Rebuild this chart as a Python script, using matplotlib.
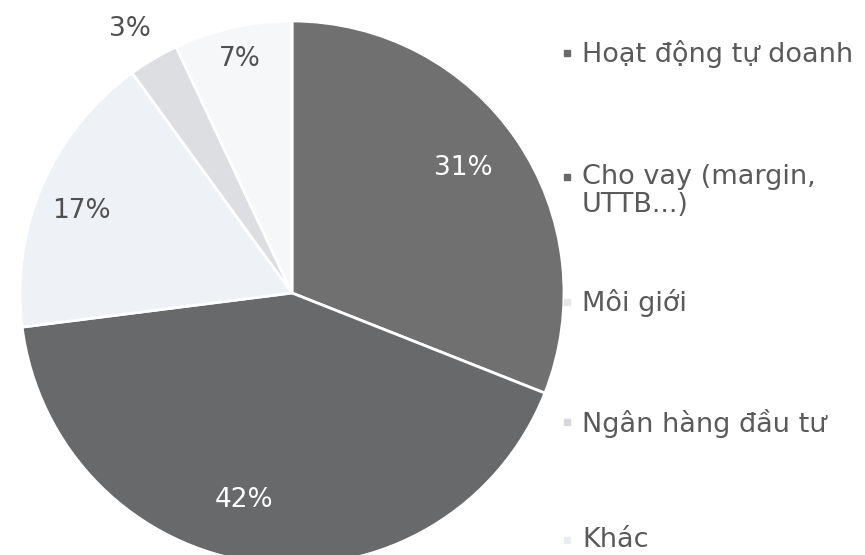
import numpy as np
import matplotlib
matplotlib.use("Agg")
import matplotlib.pyplot as plt

# ------------------------------------------------------------
# DATA
# ------------------------------------------------------------
categories = ["Hoạt động tự doanh", "Cho vay (margin,\nUTTB...)", "Môi giới",
              "Ngân hàng đầu tư", "Khác"]
shares = [31, 42, 17, 3, 7]

# ------------------------------------------------------------
# STYLE
# ------------------------------------------------------------
colors = ["#707070", "#67696b", "#eef1f6", "#dcdee2", "#f5f7f9"]
marker_colors = ["#6a6a6a", "#67696b", "#e4e6ea", "#d6d8dc", "#eaecef"]
label_colors = ["white", "white", "#505050", "#505050", "#505050"]
label_r = [0.78, 0.78, 0.83, 1.14, 0.88]
label_shift = [2, -6, 2, 1, 0]   # angular tweak (deg)
legend_y = [53, 177, 302, 422, 540]   # pixel rows of legend entries (first line)

plt.rcParams["font.family"] = ["DejaVu Sans"]

fig = plt.figure(figsize=(8.65, 5.55), dpi=100)
ax = fig.add_axes([20 / 865, -10 / 555, 544 / 865, 544 / 555])

wedges, _ = ax.pie(shares, colors=colors, startangle=90, counterclock=False,
                   radius=1, wedgeprops=dict(edgecolor="white", linewidth=2))

for w, s, r, c, d in zip(wedges, shares, label_r, label_colors, label_shift):
    ang = np.deg2rad((w.theta1 + w.theta2) / 2 + d)
    ax.text(r * np.cos(ang), r * np.sin(ang), f"{s}%", color=c,
            fontsize=19, ha="center", va="center")

ax.set_xlim(-1, 1)
ax.set_ylim(-1, 1)
ax.set_aspect("equal")
ax.axis("off")

# legend drawn on an overlay in pixel coordinates
lax = fig.add_axes([0, 0, 1, 1])
lax.set_xlim(0, 865)
lax.set_ylim(555, 0)
lax.axis("off")
for lab, mc, y in zip(categories, marker_colors, legend_y):
    lax.plot([567], [y], marker="s", markersize=5, color=mc, linestyle="none")
    lax.text(582, y - 13, lab, fontsize=19.5, color="#5a5a5a", ha="left",
             va="top", linespacing=1.1)

fig.savefig("out.png", dpi=100, facecolor="white")
